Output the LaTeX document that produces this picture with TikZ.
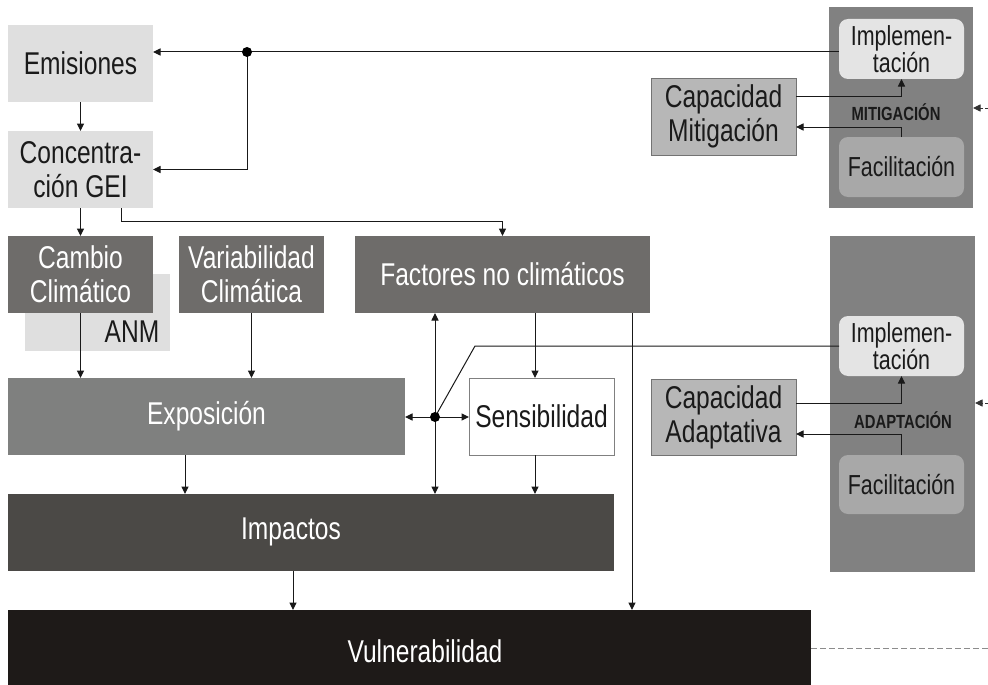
\documentclass[tikz,border=0pt]{standalone}
\usepackage{fontspec}
\setmainfont[FakeStretch=0.78]{Liberation Sans}
\usetikzlibrary{arrows.meta}
\definecolor{lightbox}{HTML}{DFDFDF}
\definecolor{darkbox}{HTML}{6E6C6A}
\definecolor{expobox}{HTML}{7F807F}
\definecolor{impbox}{HTML}{4B4946}
\definecolor{vulnbox}{HTML}{1E1A18}
\definecolor{panelgray}{HTML}{818181}
\definecolor{implbox}{HTML}{E4E4E4}
\definecolor{facilbox}{HTML}{A8A8A8}
\definecolor{capbox}{HTML}{B7B7B7}
\definecolor{txtdark}{HTML}{1A1A1A}
\begin{document}
\begin{tikzpicture}[x=1pt,y=-1pt,
  bx/.style 2 args={anchor=north west, inner sep=0pt, outer sep=0pt, align=center,
     minimum width=#1, minimum height=#2, font=\fontsize{31.5}{34}\selectfont},
  lightfill/.style={fill=lightbox, text=txtdark},
  darkfill/.style={fill=darkbox, text=white},
  panelbox/.style={fill=panelgray},
  innerbox/.style={rounded corners=9pt, font=\fontsize{27.5}{27}\selectfont, text=txtdark},
  capstyle/.style={fill=capbox, draw=black!55, line width=0.6pt, text=txtdark},
  plabel/.style={font=\bfseries\fontsize{19}{20}\selectfont, text=txtdark, inner sep=0pt},
  conn/.style={line width=1pt, draw=black!90},
  arr/.style={conn, -{Triangle[length=7.5pt,width=7pt]}},
  dasharr/.style={line width=0.9pt, draw=black!80, dash pattern=on 3pt off 2pt, -{Triangle[length=7.5pt,width=7pt]}},
  dashline/.style={line width=1pt, draw=black!45, dash pattern=on 6pt off 3pt},
  dotstyle/.style={circle, fill=black, inner sep=0pt, minimum size=10pt}
]
\useasboundingbox (0,0) rectangle (988,685);

% left column
\node[bx={145pt}{77pt}, lightfill] (emis) at (8,25) {Emisiones};
\node[bx={145pt}{77pt}, lightfill] (conc) at (8,131) {Concentra-\\ción GEI};
\node[bx={145pt}{77pt}, fill=lightbox] (anm) at (25,274) {};
\node[font=\fontsize{31.5}{34}\selectfont, text=txtdark, anchor=base, inner sep=0pt] (anmt) at (132,342) {ANM};
\node[bx={145pt}{77pt}, darkfill] (cambio) at (8,236) {Cambio\\Climático};
\node[bx={145pt}{77pt}, darkfill] (vari) at (179,236) {Variabilidad\\Climática};
\node[bx={295pt}{77pt}, darkfill] (fact) at (355,236) {Factores no climáticos};
\node[bx={397pt}{77pt}, fill=expobox, text=white] (expo) at (8,378) {Exposición};
\node[bx={145pt}{77pt}, fill=white, draw=black!50, line width=0.6pt, text=txtdark] (sens) at (469,378) {Sensibilidad};
\node[bx={606pt}{77pt}, fill=impbox] (impa) at (8,494) {};
\node[font=\fontsize{31.5}{34}\selectfont, text=white, inner sep=0pt] (impat) at (291,532) {Impactos};
\node[bx={803pt}{75pt}, fill=vulnbox] (vuln) at (8,610) {};
\node[font=\fontsize{31.5}{34}\selectfont, text=white, inner sep=0pt] (vulnt) at (425,651) {Vulnerabilidad};

% mitigation panel
\node[bx={144pt}{201pt}, panelbox] (panm) at (829,7) {};
\node[bx={125pt}{60pt}, innerbox, fill=implbox] (implm) at (839,19) {Implemen-\\tación};
\node[bx={125pt}{60pt}, innerbox, fill=facilbox] (facm) at (839,137) {Facilitación};
\node[plabel] (labm) at (896,112) {MITIGACIÓN};
\node[bx={145pt}{77pt}, capstyle] (capm) at (651,78) {Capacidad\\Mitigación};

% adaptation panel
\node[bx={145pt}{336pt}, panelbox] (pana) at (830,236) {};
\node[bx={125pt}{60pt}, innerbox, fill=implbox] (impla) at (839,316) {Implemen-\\tación};
\node[bx={125pt}{59pt}, innerbox, fill=facilbox] (faca) at (839,455) {Facilitación};
\node[plabel] (laba) at (903,420) {ADAPTACIÓN};
\node[bx={145pt}{76pt}, capstyle] (capa) at (651,379) {Capacidad\\Adaptativa};

% helper coordinates
\coordinate (d1) at (247,52);
\coordinate (k1) at (121,221);
\coordinate (d2) at (435,417);
\coordinate (k2) at (475,346);
\coordinate (xs) at (535,0);
\coordinate (xe) at (185,0);
\coordinate (xi) at (293,0);
\coordinate (xf) at (632,0);
\coordinate (ym1) at (0,96);
\coordinate (ym2) at (0,127);
\coordinate (ya1) at (0,403);
\coordinate (ya2) at (0,434);
\coordinate (ydm) at (988,108);
\coordinate (yda) at (988,403);
\coordinate (yv) at (988,648);

% connectors top
\draw[arr] (implm.west |- d1) -- (emis.east |- d1);
\draw[arr] (d1) |- (conc.east);
\node[dotstyle] (dot1) at (d1) {};
\draw[arr] (emis.south) -- (conc.north);
\draw[arr] (conc.south) -- (cambio.north);
\draw[arr] (conc.south -| k1) -- (k1) -| (fact.north);
\draw[arr] (cambio.south) -- (cambio.south |- expo.north);
\draw[arr] (vari.south) -- (vari.south |- expo.north);

% middle
\draw[arr] (d2) -- (expo.east |- d2);
\draw[arr] (d2) -- (sens.west |- d2);
\draw[arr] (d2) -- (fact.south -| d2);
\draw[arr] (d2) -- (impa.north -| d2);
\draw[conn] (d2) -- (k2) -- (impla.west |- k2);
\node[dotstyle] (dot2) at (d2) {};
\draw[arr] (fact.south -| xs) -- (sens.north -| xs);
\draw[arr] (sens.south -| xs) -- (impa.north -| xs);
\draw[arr] (expo.south -| xe) -- (impa.north -| xe);
\draw[arr] (impa.south -| xi) -- (vuln.north -| xi);
\draw[arr] (fact.south -| xf) -- (vuln.north -| xf);

% mitigation connectors
\draw[arr] (capm.east |- ym1) -| (implm.south);
\draw[arr] (facm.north) |- (capm.east |- ym2);
\draw[dasharr] (ydm) -- (panm.east |- ydm);

% adaptation connectors
\draw[arr] (capa.east |- ya1) -| (impla.south);
\draw[arr] (faca.north) |- (capa.east |- ya2);
\draw[dasharr] (yda) -- (pana.east |- yda);

% vulnerability dashed
\draw[dashline] (vuln.east |- yv) -- (yv);
\end{tikzpicture}
\end{document}
